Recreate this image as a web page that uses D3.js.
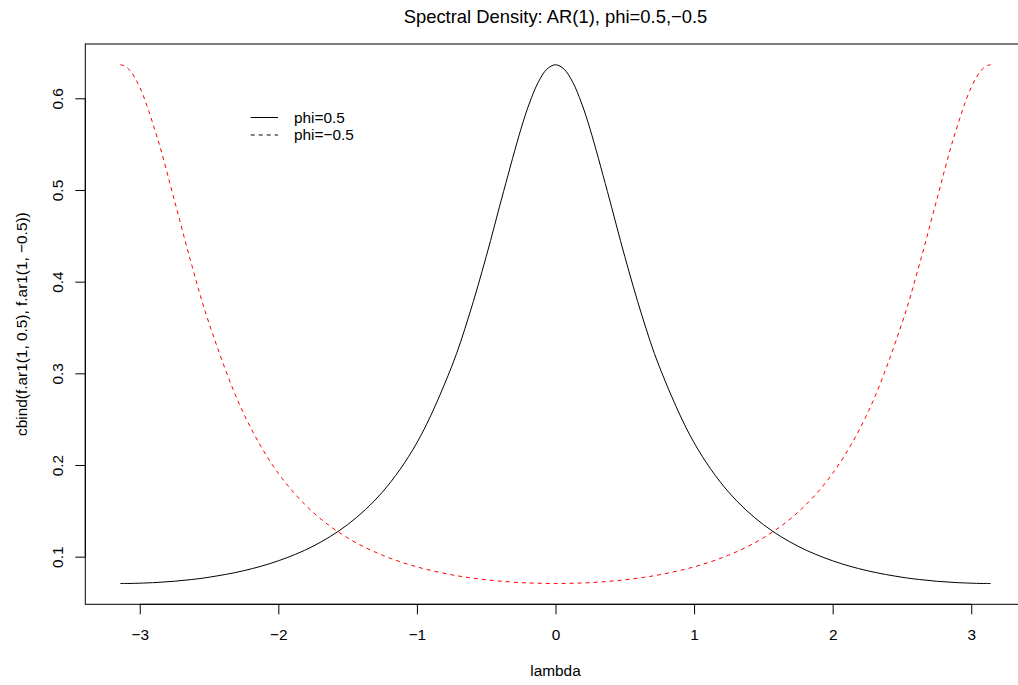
<!DOCTYPE html>
<html>
<head>
<meta charset="utf-8">
<script src="https://cdn.jsdelivr.net/npm/d3@7"></script>
<style>
  body { margin: 0; background: #fff; }
  svg { display: block; font-family: "Liberation Sans", Arial, sans-serif; }
</style>
</head>
<body>
<script>
// frequencies on the x axis
const lambda = [-3.1416, -3.11, -3.07, -3, -2.875, -2.75, -2.625, -2.5, -2.25, -2, -1.75, -1.5,
  -1.25, -1, -0.75, -0.625, -0.5, -0.375, -0.25, -0.1875, -0.125, -0.0625, 0, 0.0625, 0.125,
  0.1875, 0.25, 0.375, 0.5, 0.625, 0.75, 1, 1.25, 1.5, 1.75, 2, 2.25, 2.5, 2.625, 2.75, 2.875,
  3, 3.07, 3.11, 3.1416];

// spectral density, phi = 0.5
const phiPos = [0.0707, 0.0708, 0.0708, 0.0711, 0.0719, 0.0732, 0.0751, 0.0776, 0.0847, 0.0955,
  0.1114, 0.1350, 0.1703, 0.2243, 0.3071, 0.3625, 0.4274, 0.4982, 0.5662, 0.5949, 0.6174, 0.6317,
  0.6366, 0.6317, 0.6174, 0.5949, 0.5662, 0.4982, 0.4274, 0.3625, 0.3071, 0.2243, 0.1703, 0.1350,
  0.1114, 0.0955, 0.0847, 0.0776, 0.0751, 0.0732, 0.0719, 0.0711, 0.0708, 0.0708, 0.0707];

// spectral density, phi = -0.5
const phiNeg = [0.6366, 0.6354, 0.6302, 0.6121, 0.5578, 0.4887, 0.4183, 0.3546, 0.2560, 0.1909,
  0.1485, 0.1205, 0.1017, 0.0889, 0.0803, 0.0772, 0.0748, 0.0730, 0.0717, 0.0713, 0.0710, 0.0708,
  0.0707, 0.0708, 0.0710, 0.0713, 0.0717, 0.0730, 0.0748, 0.0772, 0.0803, 0.0889, 0.1017, 0.1205,
  0.1485, 0.1909, 0.2560, 0.3546, 0.4183, 0.4887, 0.5578, 0.6121, 0.6302, 0.6354, 0.6366];

const xTicks = [-3, -2, -1, 0, 1, 2, 3];
const yTicks = [0.1, 0.2, 0.3, 0.4, 0.5, 0.6];

const legendLabels = ['phi=0.5', 'phi=\u22120.5'];

const width  = 1018;
const height = 685;
const margin = { top: 44, left: 85.3, right: 1025.7, bottom: 604.3 };
const fontSize  = 15.4;
const titleSize = 18.4;

// R-style 4% padding around the data range
const pad = (ext) => {
  const d = (ext[1] - ext[0]) * 0.04;
  return [ext[0] - d, ext[1] + d];
};

const x = d3.scaleLinear()
  .domain(pad(d3.extent(lambda)))
  .range([margin.left, margin.right]);

const y = d3.scaleLinear()
  .domain(pad(d3.extent(phiPos.concat(phiNeg))))
  .range([margin.bottom, margin.top]);

const svg = d3.select('body')
  .append('svg')
    .attr('width', width)
    .attr('height', height);

// plot box
svg.append('rect')
  .attr('x', margin.left)
  .attr('y', margin.top)
  .attr('width', margin.right - margin.left)
  .attr('height', margin.bottom - margin.top)
  .attr('fill', 'none')
  .attr('stroke', '#000')
  .attr('stroke-width', 1);

const fmt = d3.format('');

// x axis
const xAxis = svg.append('g')
  .attr('transform', `translate(0,${margin.bottom})`)
  .call(d3.axisBottom(x).tickValues(xTicks).tickSize(10).tickPadding(15).tickFormat(fmt));
xAxis.select('.domain').attr('d', `M${x(xTicks[0])},0H${x(xTicks[xTicks.length - 1])}`);

// y axis
const yAxis = svg.append('g')
  .attr('transform', `translate(${margin.left},0)`)
  .call(d3.axisLeft(y).tickValues(yTicks).tickSize(10).tickFormat(fmt));
yAxis.select('.domain').attr('d', `M0,${y(yTicks[0])}V${y(yTicks[yTicks.length - 1])}`);
yAxis.selectAll('.tick text')
  .attr('x', null).attr('dy', null)
  .attr('transform', 'translate(-28,0) rotate(-90)')
  .attr('text-anchor', 'middle')
  .attr('dy', '0.35em');

svg.selectAll('.tick text')
  .attr('font-size', fontSize)
  .attr('font-family', '"Liberation Sans", Arial, sans-serif')
  .attr('fill', '#000');
svg.selectAll('.tick line, .domain').attr('stroke', '#000');

// curves
const line = d3.line()
  .x((d, i) => x(lambda[i]))
  .y((d) => y(d))
  .curve(d3.curveCatmullRom.alpha(0.5));

svg.append('path')
  .datum(phiPos)
  .attr('d', line)
  .attr('fill', 'none')
  .attr('stroke', '#000')
  .attr('stroke-width', 1);

svg.append('path')
  .datum(phiNeg)
  .attr('d', line)
  .attr('fill', 'none')
  .attr('stroke', '#ff0000')
  .attr('stroke-width', 1)
  .attr('stroke-dasharray', '4,4');

// titles
svg.append('text')
  .attr('x', (margin.left + margin.right) / 2)
  .attr('y', 23)
  .attr('text-anchor', 'middle')
  .attr('font-size', titleSize)
  .text('Spectral Density: AR(1), phi=0.5,\u22120.5');

svg.append('text')
  .attr('x', (margin.left + margin.right) / 2)
  .attr('y', 676)
  .attr('text-anchor', 'middle')
  .attr('font-size', fontSize)
  .text('lambda');

svg.append('text')
  .attr('transform', `translate(27,${(margin.top + margin.bottom) / 2}) rotate(-90)`)
  .attr('text-anchor', 'middle')
  .attr('font-size', fontSize)
  .text('cbind(f.ar1(1, 0.5), f.ar1(1, \u22120.5))');

// legend
const legend = svg.append('g');
legendLabels.forEach((label, i) => {
  const ly = 117.5 + i * 17.5;
  legend.append('line')
    .attr('x1', 250.7).attr('x2', 278)
    .attr('y1', ly).attr('y2', ly)
    .attr('stroke', '#000')
    .attr('stroke-dasharray', i === 0 ? null : '4,4');
  legend.append('text')
    .attr('x', 294)
    .attr('y', ly)
    .attr('dy', '0.35em')
    .attr('font-size', fontSize)
    .text(label);
});
</script>
</body>
</html>
